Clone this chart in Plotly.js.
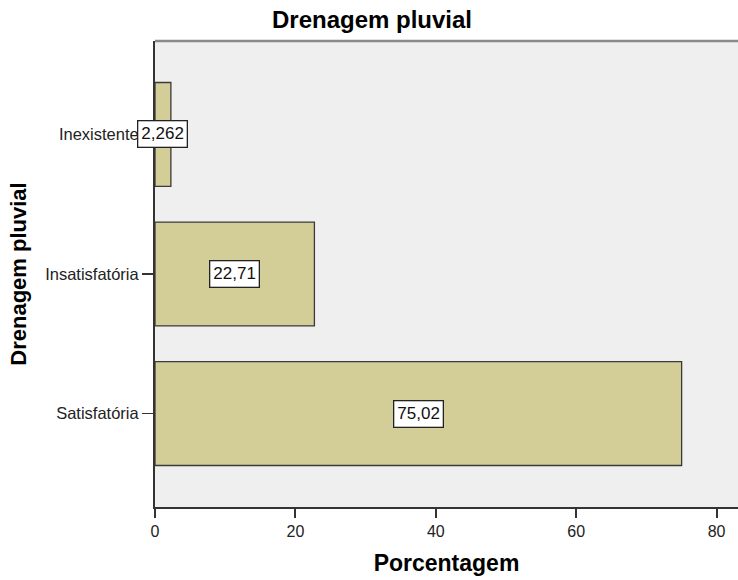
<!DOCTYPE html>
<html>
<head>
<meta charset="utf-8">
<script src="https://cdn.plot.ly/plotly-3.0.1.min.js"></script>
<style>html,body{margin:0;padding:0;background:#fff;}#chart{width:738px;height:580px;}</style>
</head>
<body>
<div id="chart"></div>
<script>
const categories = ['Inexistente', 'Insatisfatória', 'Satisfatória'];
const values = [2.262, 22.71, 75.02];
const valueLabels = ['2,262', '22,71', '75,02'];
const xTicks = [0, 20, 40, 60, 80];

const FONT = 'Liberation Sans, Arial, sans-serif';

const trace = {
  type: 'bar',
  orientation: 'h',
  y: categories,
  x: values,
  marker: {color: '#d3ce97', line: {color: '#3a3a3a', width: 1.3}},
  hoverinfo: 'none'
};

const annotations = categories.map((c, i) => ({
  x: values[i] / 2, y: c, xref: 'x', yref: 'y',
  text: valueLabels[i], showarrow: false,
  font: {family: FONT, size: 17, color: '#111'},
  bgcolor: '#ffffff', bordercolor: '#222', borderwidth: 1.3, borderpad: 3,
  xanchor: 'center', yanchor: 'middle'
}));

const layout = {
  width: 738, height: 580,
  margin: {l: 155, r: 0, t: 41, b: 73, pad: 0},
  paper_bgcolor: '#ffffff',
  plot_bgcolor: '#efefef',
  showlegend: false,
  bargap: 0.255,
  title: {text: 'Drenagem pluvial', font: {family: FONT, size: 24, color: '#000', weight: 'bold'},
          x: 372/738, xref: 'container', xanchor: 'center', y: 1 - 20/580, yref: 'container', yanchor: 'middle'},
  xaxis: {
    range: [0, 83.05], tickvals: xTicks, ticktext: xTicks.map(String),
    showgrid: false, zeroline: false,
    showline: true, linecolor: '#333', linewidth: 2,
    ticks: 'outside', ticklen: 9, tickwidth: 2, tickcolor: '#333',
    tickfont: {family: FONT, size: 16, color: '#222'},
    title: {text: 'Porcentagem', font: {family: FONT, size: 23, color: '#000', weight: 'bold'}, standoff: 16}
  },
  yaxis: {
    type: 'category', categoryorder: 'array', categoryarray: categories,
    range: [2.67, -0.67],
    showgrid: false, zeroline: false,
    showline: true, linecolor: '#333', linewidth: 2,
    ticks: 'outside', ticklen: 11, tickwidth: 1.5, tickcolor: '#333',
    tickfont: {family: FONT, size: 16.5, color: '#222'},
    title: {text: 'Drenagem pluvial', font: {family: FONT, size: 22, color: '#000', weight: 'bold'}, standoff: 12}
  },
  shapes: [{type: 'line', xref: 'paper', yref: 'paper', x0: 0, x1: 1, y0: 1, y1: 1,
            line: {color: '#8a8a8a', width: 2.5}}],
  annotations: annotations
};

Plotly.newPlot('chart', [trace], layout, {staticPlot: true, displayModeBar: false});
</script>
</body>
</html>
